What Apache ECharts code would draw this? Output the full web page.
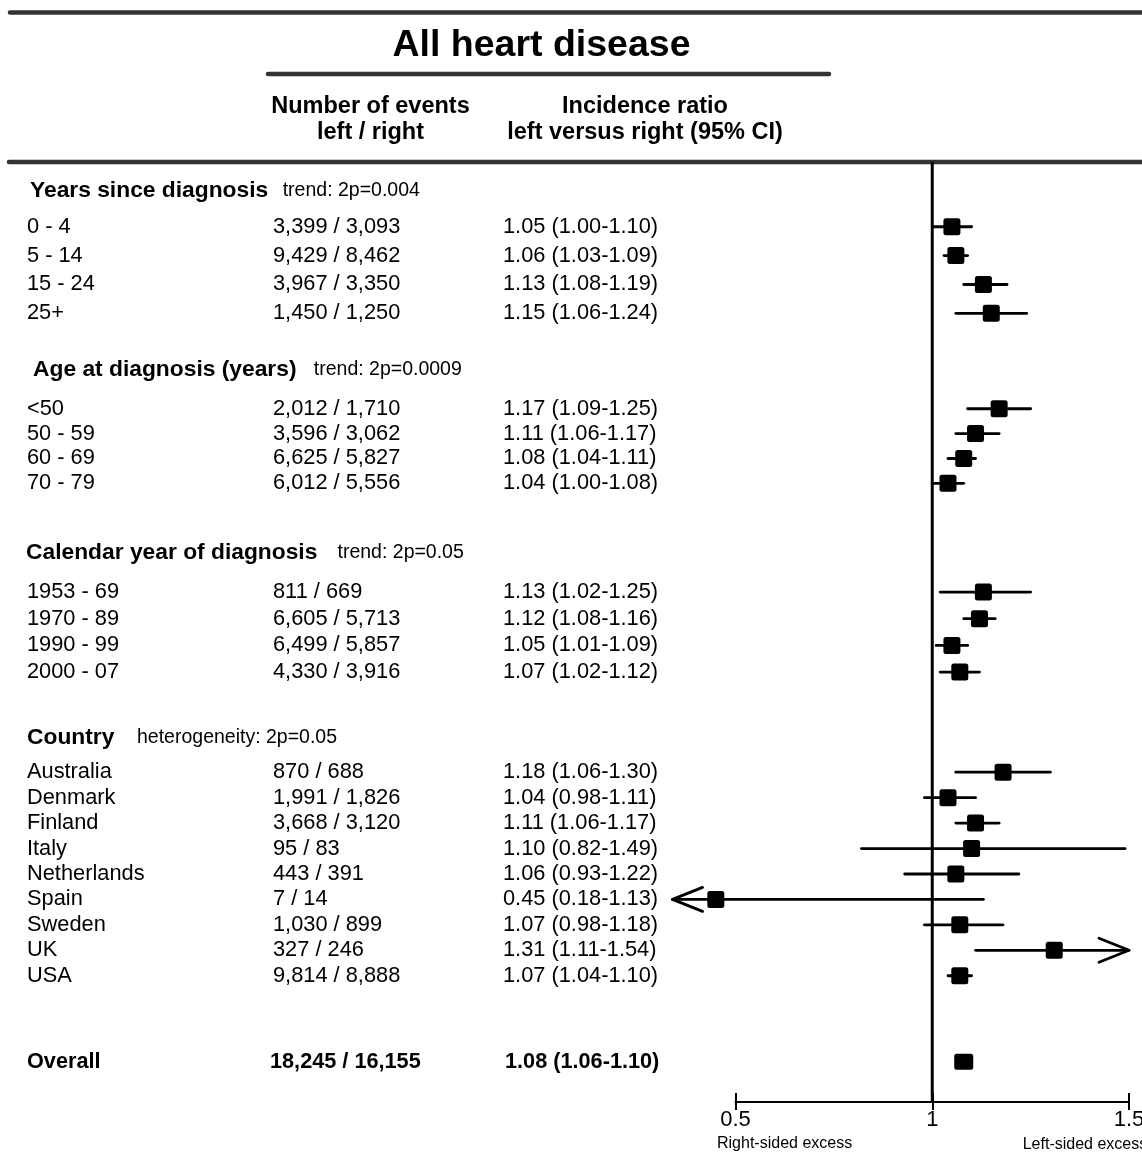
<!DOCTYPE html>
<html>
<head>
<meta charset="utf-8">
<script src="https://cdn.jsdelivr.net/npm/echarts@6/dist/echarts.min.js"></script>
<style>
html,body{margin:0;padding:0;background:#fff;}
#c{width:1142px;height:1174px;}
</style>
</head>
<body>
<div id="c"></div>
<script>
// ---------------- data ----------------
const titleText = 'All heart disease';
const columnHeaders = [['Number of events', 'left / right'], ['Incidence ratio', 'left versus right (95% CI)']];
const groupTitles = ['Years since diagnosis', 'Age at diagnosis (years)', 'Calendar year of diagnosis', 'Country'];
const groupNotes = ['trend: 2p=0.004', 'trend: 2p=0.0009', 'trend: 2p=0.05', 'heterogeneity: 2p=0.05'];
const rowLabels = ['0 - 4', '5 - 14', '15 - 24', '25+',
  '<50', '50 - 59', '60 - 69', '70 - 79',
  '1953 - 69', '1970 - 89', '1990 - 99', '2000 - 07',
  'Australia', 'Denmark', 'Finland', 'Italy', 'Netherlands', 'Spain', 'Sweden', 'UK', 'USA',
  'Overall'];
const rowGroup = [0, 0, 0, 0, 1, 1, 1, 1, 2, 2, 2, 2, 3, 3, 3, 3, 3, 3, 3, 3, 3, 4];
const eventsLeft = [3399, 9429, 3967, 1450, 2012, 3596, 6625, 6012, 811, 6605, 6499, 4330,
  870, 1991, 3668, 95, 443, 7, 1030, 327, 9814, 18245];
const eventsRight = [3093, 8462, 3350, 1250, 1710, 3062, 5827, 5556, 669, 5713, 5857, 3916,
  688, 1826, 3120, 83, 391, 14, 899, 246, 8888, 16155];
const ratio = [1.05, 1.06, 1.13, 1.15, 1.17, 1.11, 1.08, 1.04, 1.13, 1.12, 1.05, 1.07,
  1.18, 1.04, 1.11, 1.10, 1.06, 0.45, 1.07, 1.31, 1.07, 1.08];
const lower = [1.00, 1.03, 1.08, 1.06, 1.09, 1.06, 1.04, 1.00, 1.02, 1.08, 1.01, 1.02,
  1.06, 0.98, 1.06, 0.82, 0.93, 0.18, 0.98, 1.11, 1.04, 1.06];
const upper = [1.10, 1.09, 1.19, 1.24, 1.25, 1.17, 1.11, 1.08, 1.25, 1.16, 1.09, 1.12,
  1.30, 1.11, 1.17, 1.49, 1.22, 1.13, 1.18, 1.54, 1.10, 1.10];
const axisTicks = [0.5, 1, 1.5];
const referenceValue = [1];
const axisNotes = ['Right-sided excess', 'Left-sided excess'];

// ---------------- layout ----------------
const FONT = "'Liberation Sans', Arial, Helvetica, sans-serif";
const PLOT_LEFT = 735.5, PLOT_RIGHT = 13, PLOT_TOP = 162, AXIS_Y = 1102;
const X_MIN = 0.5, X_MAX = 1.5, SHOW_MIN = 0.34, SHOW_MAX = 1.5;
const groupBands = [
  {top: 212.3, step: 28.87},
  {top: 396.3, step: 24.87},
  {top: 578.7, step: 26.67},
  {top: 759.5, step: 25.44},
  {top: 1048.7, step: 26}
];
const headerPos = [[30, 190.5], [33, 369.5], [26, 553], [27, 737.5]];
const notePosX = [282.7, 313.8, 337.5, 137];
const COL_X = {name: 27, events: 273, ratio: 503, eventsBold: 270, ratioBold: 505};
const ROW_FONT = 21.8, BOLD_ROW_FONT = 21.7;

function fmt(n) { return n.toLocaleString('en-US'); }

function makeRender(boxW, boxH) {
  return function (params, api) {
    const est = api.value(0), row = api.value(1), lo = api.value(2), hi = api.value(3);
    const c = api.coord([est, row]);
    const cy = c[1];
    const x1 = api.coord([Math.max(lo, SHOW_MIN), row])[0];
    const x2 = api.coord([Math.min(hi, SHOW_MAX), row])[0];
    const ln = {stroke: '#000', lineWidth: 2.8, lineCap: 'round', lineJoin: 'round', fill: null};
    const children = [{type: 'line', shape: {x1: x1, y1: cy, x2: x2, y2: cy}, style: ln}];
    const AL = 30, AH = 12;
    if (lo < SHOW_MIN) {
      children.push({type: 'polyline', shape: {points: [[x1 + AL, cy - AH], [x1, cy], [x1 + AL, cy + AH]]}, style: ln});
    }
    if (hi > SHOW_MAX) {
      children.push({type: 'polyline', shape: {points: [[x2 - AL, cy - AH], [x2, cy], [x2 - AL, cy + AH]]}, style: ln});
    }
    children.push({type: 'rect', shape: {x: c[0] - boxW / 2, y: cy - boxH / 2, width: boxW, height: boxH, r: 2.5}, style: {fill: '#000'}});
    return {type: 'group', children: children};
  };
}

const grid = [], xAxis = [], yAxis = [], series = [];

// frame grid: reference line and visible axis
grid.push({left: PLOT_LEFT, right: PLOT_RIGHT, top: PLOT_TOP, height: AXIS_Y - PLOT_TOP, containLabel: false, outerBoundsMode: 'none'});
const tickLine = {color: '#000', width: 2};
xAxis.push({gridIndex: 0, type: 'value', min: X_MIN, max: X_MAX, interval: 0.5, position: 'bottom',
  axisLine: {show: true, onZero: false, lineStyle: tickLine},
  axisTick: {show: true, inside: false, length: 8, lineStyle: tickLine, customValues: axisTicks},
  axisLabel: {show: true, customValues: axisTicks, margin: 7, color: '#000', fontSize: 22, fontFamily: FONT,
    showMinLabel: true, showMaxLabel: true, formatter: v => String(v)},
  splitLine: {show: false}});
xAxis.push({gridIndex: 0, type: 'value', min: X_MIN, max: X_MAX, interval: 0.5, position: 'bottom',
  axisLine: {show: false, onZero: false},
  axisTick: {show: true, inside: true, length: 9, lineStyle: tickLine, customValues: axisTicks},
  axisLabel: {show: false}, splitLine: {show: false}});
yAxis.push({gridIndex: 0, type: 'value', min: 0, max: 1, show: false});
series.push({type: 'custom', xAxisIndex: 0, yAxisIndex: 0, silent: true, clip: false, z: 1,
  data: referenceValue.map(v => [v, 0]),
  renderItem: function (params, api) {
    const cs = params.coordSys;
    const x = api.coord([api.value(0), 0])[0];
    return {type: 'line', shape: {x1: x, y1: cs.y, x2: x, y2: cs.y + cs.height}, style: {stroke: '#000', lineWidth: 3}};
  }});

// one grid per group so each group keeps its own row spacing
const groups = [0, 1, 2, 3, 4].map(g => rowLabels.map((_, i) => i).filter(i => rowGroup[i] === g));
groups.forEach((idx, g) => {
  const band = groupBands[g];
  const gi = grid.length;
  const bold = g === 4;
  const fs = bold ? BOLD_ROW_FONT : ROW_FONT;
  grid.push({left: PLOT_LEFT, right: PLOT_RIGHT, top: band.top, height: band.step * idx.length, containLabel: false, outerBoundsMode: 'none'});
  xAxis.push({gridIndex: gi, type: 'value', min: X_MIN, max: X_MAX, show: false});
  const xi = xAxis.length - 1;
  const cols = [
    {x: COL_X.name, data: idx.map(i => rowLabels[i])},
    {x: bold ? COL_X.eventsBold : COL_X.events, data: idx.map(i => fmt(eventsLeft[i]) + ' / ' + fmt(eventsRight[i]))},
    {x: bold ? COL_X.ratioBold : COL_X.ratio, data: idx.map(i => ratio[i].toFixed(2) + ' (' + lower[i].toFixed(2) + '-' + upper[i].toFixed(2) + ')')}
  ];
  const yBase = yAxis.length;
  cols.forEach(c => yAxis.push({gridIndex: gi, type: 'category', inverse: true, position: 'left', data: c.data,
    axisLine: {show: false}, axisTick: {show: false}, splitLine: {show: false},
    axisLabel: {show: true, interval: 0, align: 'left', verticalAlign: 'middle', margin: PLOT_LEFT - c.x,
      color: '#000', fontSize: fs, fontFamily: FONT, fontWeight: bold ? 'bold' : 'normal'}}));
  series.push({type: 'custom', xAxisIndex: xi, yAxisIndex: yBase, silent: true, clip: false, z: 2,
    data: idx.map((i, k) => [ratio[i], k, lower[i], upper[i]]),
    renderItem: makeRender(bold ? 19 : 17, bold ? 16 : 17)});
});

// ---------------- static text & rules ----------------
function txt(x, y, text, size, weight, align) {
  return {type: 'text', x: x, y: y, silent: true,
    style: {text: text, fontSize: size, fontWeight: weight, fontFamily: FONT, fill: '#000',
      textAlign: align, textVerticalAlign: 'middle'}};
}
function rule(x1, x2, y, w) {
  return {type: 'line', silent: true, shape: {x1: x1, y1: y, x2: x2, y2: y},
    style: {stroke: '#333', lineWidth: w, lineCap: 'round'}};
}
const elements = [
  rule(10, 1142, 12.5, 4.5),
  txt(541.5, 46, titleText, 37.5, 'bold', 'center'),
  rule(268, 829, 74, 4.5),
  txt(370.5, 106.5, columnHeaders[0][0], 23.5, 'bold', 'center'),
  txt(370.5, 133, columnHeaders[0][1], 23.5, 'bold', 'center'),
  txt(645, 106.5, columnHeaders[1][0], 23.5, 'bold', 'center'),
  txt(645, 133, columnHeaders[1][1], 23.5, 'bold', 'center'),
  rule(9, 1142, 162, 4.5),
  txt(717, 1144, axisNotes[0], 16, 'normal', 'left'),
  txt(1022.7, 1145, axisNotes[1], 16, 'normal', 'left')
];
groupTitles.forEach((t, g) => {
  elements.push(txt(headerPos[g][0], headerPos[g][1], t, 22.8, 'bold', 'left'));
  elements.push(txt(notePosX[g], headerPos[g][1], groupNotes[g], 19.5, 'normal', 'left'));
});

const chart = echarts.init(document.getElementById('c'), null, {renderer: 'canvas'});
chart.setOption({
  animation: false,
  backgroundColor: '#fff',
  grid: grid,
  xAxis: xAxis,
  yAxis: yAxis,
  series: series,
  graphic: {elements: elements}
});
</script>
</body>
</html>
